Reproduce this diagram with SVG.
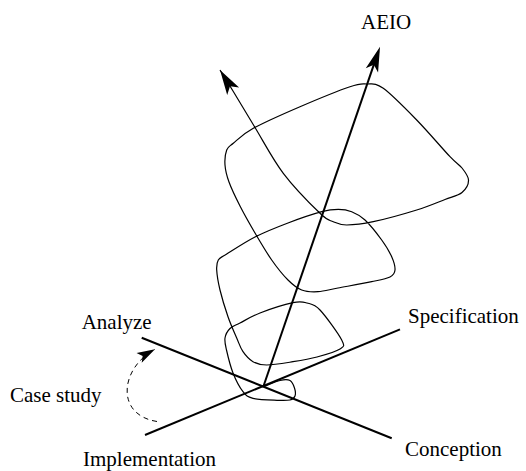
<svg xmlns="http://www.w3.org/2000/svg" width="526" height="471" viewBox="0 0 526 471">
<style>
  text { font-family: "Liberation Serif", "Times New Roman", serif; font-size: 21px; fill: #000; }
  .axis { stroke: #000; stroke-width: 2; fill: none; }
  .spiral { stroke: #000; stroke-width: 1.2; fill: none; }
  .dash { stroke: #000; stroke-width: 1; fill: none; stroke-dasharray: 5,4; }
</style>
<defs>
  <marker id="arrow" markerUnits="userSpaceOnUse" markerWidth="30" markerHeight="20" refX="0" refY="0" orient="auto" overflow="visible">
    <path d="M5,0 L-20,-6.5 L-14,0 L-20,6.5 Z" fill="#000"/>
  </marker>
  <marker id="arrowThin" markerUnits="userSpaceOnUse" markerWidth="30" markerHeight="20" refX="0" refY="0" orient="auto" overflow="visible">
    <path d="M0,0 L-25,-7 L-19,0 L-25,7 Z" fill="#000"/>
  </marker>
  <marker id="arrowSmall" markerUnits="userSpaceOnUse" markerWidth="24" markerHeight="16" refX="0" refY="0" orient="auto" overflow="visible">
    <path d="M0,0 L-18,-5.5 L-14,0 L-18,5.5 Z" fill="#000"/>
  </marker>
</defs>

<g id="connectors">
  <line id="axis-analyze-conception" class="axis" x1="141.7" y1="337.7" x2="391.7" y2="438.3"/>
  <line id="axis-implementation-specification" class="axis" x1="145" y1="435" x2="400" y2="329.3"/>
  <line id="axis-aeio" class="axis" x1="263.3" y1="386.7" x2="378.4" y2="51.4" marker-end="url(#arrow)"/>
  <path id="spiral" class="spiral" marker-end="url(#arrowThin)" d="M 263.3,386.7 C 268.87,384.63 275.55,381.53 280,380.5 S 287.58,379.25 290,380.5 S 293.67,385.42 294.5,388 S 295.75,394 295,396 S 293,399.28 290,400 S 283.17,400.58 277,400.3 S 258.67,399.73 253,398.3 S 246.33,395.92 243,391.7 S 235.75,379.95 233,373 S 227.83,355.83 226.5,350 S 224.42,341.58 225,338 S 227.5,331 230,328.5 S 235,325.58 240,323 S 251.17,316.38 260,313 S 285.17,304.37 293,302.7 S 302.5,301.78 307,303 S 314.22,303.83 320,310 S 338.37,333.5 341.7,340 S 344.12,346.17 340,349 S 324.83,354.88 317,357 S 301.38,360.37 293,361.7 S 273.37,365 266.7,365 S 256.95,363.92 253,361.7 S 245.72,355.65 243,351.7 S 239.2,343.83 236.7,338 S 230.78,324.7 228,316.7 S 221.88,297.78 220,290 S 216.98,275 216.7,270 S 216.75,262.58 218.3,260 S 219.88,258.33 226,254.5 S 244.67,242.25 255,237 S 276.88,227.22 288,223 S 313.32,213.98 321.7,211.7 S 333.3,209.3 338.3,209.3 S 347.25,209.92 351.7,211.7 S 360,215.28 365,220 S 377.25,233.88 381.7,240 S 389.48,251.7 391.7,256.7 S 395.28,266.62 395,270 S 393.88,275.05 390,277 S 380.37,279.87 371.7,281.7 S 346.95,286.33 338,288 S 324.05,291.37 318,291.7 S 306.7,291.95 301.7,290 S 293,285 288,280 S 277.2,267.83 271.7,260 S 260.28,242 255,233 S 244.33,214.5 240,206 S 231.5,188.83 229,182 S 225.38,170.33 225,165 S 225.32,153.62 226.7,150 S 228.87,146.92 233.3,143.3 S 242.18,134.4 253.3,128.3 S 283.88,113.63 300,106.7 S 338.88,90.48 350,86.7 S 361.15,83.73 366.7,84 S 374.97,82.3 383.3,88.3 S 405.58,108.6 416.7,120 S 442.45,148.7 450,156.7 S 458.92,164.12 462,168 S 468.33,176.08 468.5,180 S 465.92,189.25 462,192.5 S 452.55,196.58 445,199.5 S 428.65,206.3 416.7,210 S 384.97,219.2 373.3,221.7 S 353.37,225 346.7,225 S 337.75,223.65 333.3,221.7 S 328.33,221.37 320,213.3 S 294.13,187.6 283.3,173.3 S 263.38,141.22 255,127.5 S 238.83,100.58 233,91 S 224.33,77 220,70"/>
  <path id="case-study-arc" class="dash" marker-end="url(#arrowSmall)" d="M 157,421.5 C 115,415 120,368 155,349.3"/>
</g>

<g id="node-aeio"><text x="361" y="29">AEIO</text></g>
<g id="node-analyze"><text x="81.7" y="329">Analyze</text></g>
<g id="node-specification"><text x="408" y="323">Specification</text></g>
<g id="node-case-study"><text x="10" y="401.5">Case study</text></g>
<g id="node-implementation"><text x="83" y="466">Implementation</text></g>
<g id="node-conception"><text x="405" y="456">Conception</text></g>
</svg>
